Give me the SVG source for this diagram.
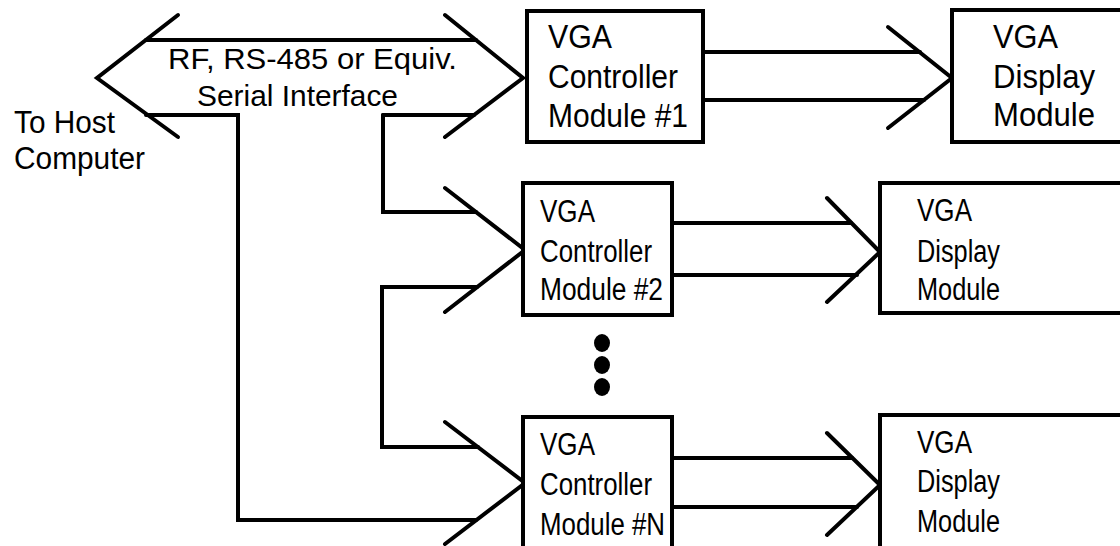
<svg xmlns="http://www.w3.org/2000/svg" width="1120" height="546" viewBox="0 0 1120 546">
<style>
.ln{fill:none;stroke:#000;stroke-width:4;stroke-linecap:round;stroke-linejoin:miter}
.bx{fill:#fff;stroke:#000;stroke-width:4}
text{font-family:"Liberation Sans",Arial,sans-serif;fill:#000}
.t1{font-size:34px}
.th{font-size:31px}
.t2{font-size:31px}
.tb{font-size:30px}
</style>
<rect width="1120" height="546" fill="#fff"/>
<g id="connectors">
<polyline class="ln" points="178,15 97,78 178,137"/>
<polyline class="ln" points="445,15 523,78 445,137"/>
<line class="ln" x1="146" y1="40" x2="476" y2="40"/>
<polyline class="ln" points="146,115 238,115 238,520 476,520"/>
<line class="ln" x1="383" y1="115" x2="474" y2="115"/>
<polyline class="ln" points="383,115 383,212 476,212"/>
<polyline class="ln" points="477,287 382,287 382,447 478,447"/>
<polyline class="ln" points="445,188 525,250 445,312"/>
<polyline class="ln" points="445,422 525,483 445,544"/>
<line class="ln" x1="703" y1="52" x2="920" y2="52"/>
<line class="ln" x1="703" y1="100" x2="924" y2="100"/>
<polyline class="ln" points="888,27 952,78 888,128"/>
<line class="ln" x1="672" y1="223" x2="851" y2="223"/>
<line class="ln" x1="672" y1="275" x2="857" y2="275"/>
<polyline class="ln" points="827,198 880,252 827,302"/>
<line class="ln" x1="672" y1="458" x2="852" y2="458"/>
<line class="ln" x1="672" y1="507" x2="857" y2="507"/>
<polyline class="ln" points="827,433 880,485 827,535"/>
</g>
<g id="bus-label">
<text class="tb" x="168" y="69" textLength="289" lengthAdjust="spacingAndGlyphs">RF, RS-485 or Equiv.</text>
<text class="tb" x="197" y="106" textLength="201" lengthAdjust="spacingAndGlyphs">Serial Interface</text>
</g>
<g id="host">
<text class="th" x="14" y="133" textLength="101" lengthAdjust="spacingAndGlyphs">To Host</text>
<text class="th" x="14" y="169" textLength="131" lengthAdjust="spacingAndGlyphs">Computer</text>
</g>
<g id="controller1">
<rect class="bx" x="527" y="11" width="176" height="131"/>
<text class="t1" x="548" y="48" textLength="64" lengthAdjust="spacingAndGlyphs">VGA</text>
<text class="t1" x="548" y="88" textLength="130" lengthAdjust="spacingAndGlyphs">Controller</text>
<text class="t1" x="548" y="127" textLength="140" lengthAdjust="spacingAndGlyphs">Module #1</text>
</g>
<g id="display1">
<rect class="bx" x="952" y="10" width="200" height="132"/>
<text class="t1" x="993" y="48" textLength="65" lengthAdjust="spacingAndGlyphs">VGA</text>
<text class="t1" x="993" y="88" textLength="102" lengthAdjust="spacingAndGlyphs">Display</text>
<text class="t1" x="993" y="126" textLength="102" lengthAdjust="spacingAndGlyphs">Module</text>
</g>
<g id="controller2">
<rect class="bx" x="523" y="183" width="149" height="132"/>
<text class="t2" x="540" y="222" textLength="55" lengthAdjust="spacingAndGlyphs">VGA</text>
<text class="t2" x="540" y="262" textLength="112" lengthAdjust="spacingAndGlyphs">Controller</text>
<text class="t2" x="540" y="300" textLength="123" lengthAdjust="spacingAndGlyphs">Module #2</text>
</g>
<g id="display2">
<rect class="bx" x="880" y="183" width="260" height="130"/>
<text class="t2" x="917" y="221" textLength="55" lengthAdjust="spacingAndGlyphs">VGA</text>
<text class="t2" x="917" y="262" textLength="83" lengthAdjust="spacingAndGlyphs">Display</text>
<text class="t2" x="917" y="300" textLength="83" lengthAdjust="spacingAndGlyphs">Module</text>
</g>
<g id="ellipsis">
<ellipse cx="602" cy="343" rx="8" ry="9"/>
<ellipse cx="602" cy="365" rx="8" ry="9"/>
<ellipse cx="602" cy="387" rx="8" ry="9"/>
</g>
<g id="controllerN">
<rect class="bx" x="523" y="417" width="149" height="140"/>
<text class="t2" x="540" y="455" textLength="55" lengthAdjust="spacingAndGlyphs">VGA</text>
<text class="t2" x="540" y="495" textLength="112" lengthAdjust="spacingAndGlyphs">Controller</text>
<text class="t2" x="540" y="535" textLength="125" lengthAdjust="spacingAndGlyphs">Module #N</text>
</g>
<g id="displayN">
<rect class="bx" x="880" y="415" width="260" height="140"/>
<text class="t2" x="917" y="453" textLength="55" lengthAdjust="spacingAndGlyphs">VGA</text>
<text class="t2" x="917" y="492" textLength="83" lengthAdjust="spacingAndGlyphs">Display</text>
<text class="t2" x="917" y="532" textLength="83" lengthAdjust="spacingAndGlyphs">Module</text>
</g>
</svg>
